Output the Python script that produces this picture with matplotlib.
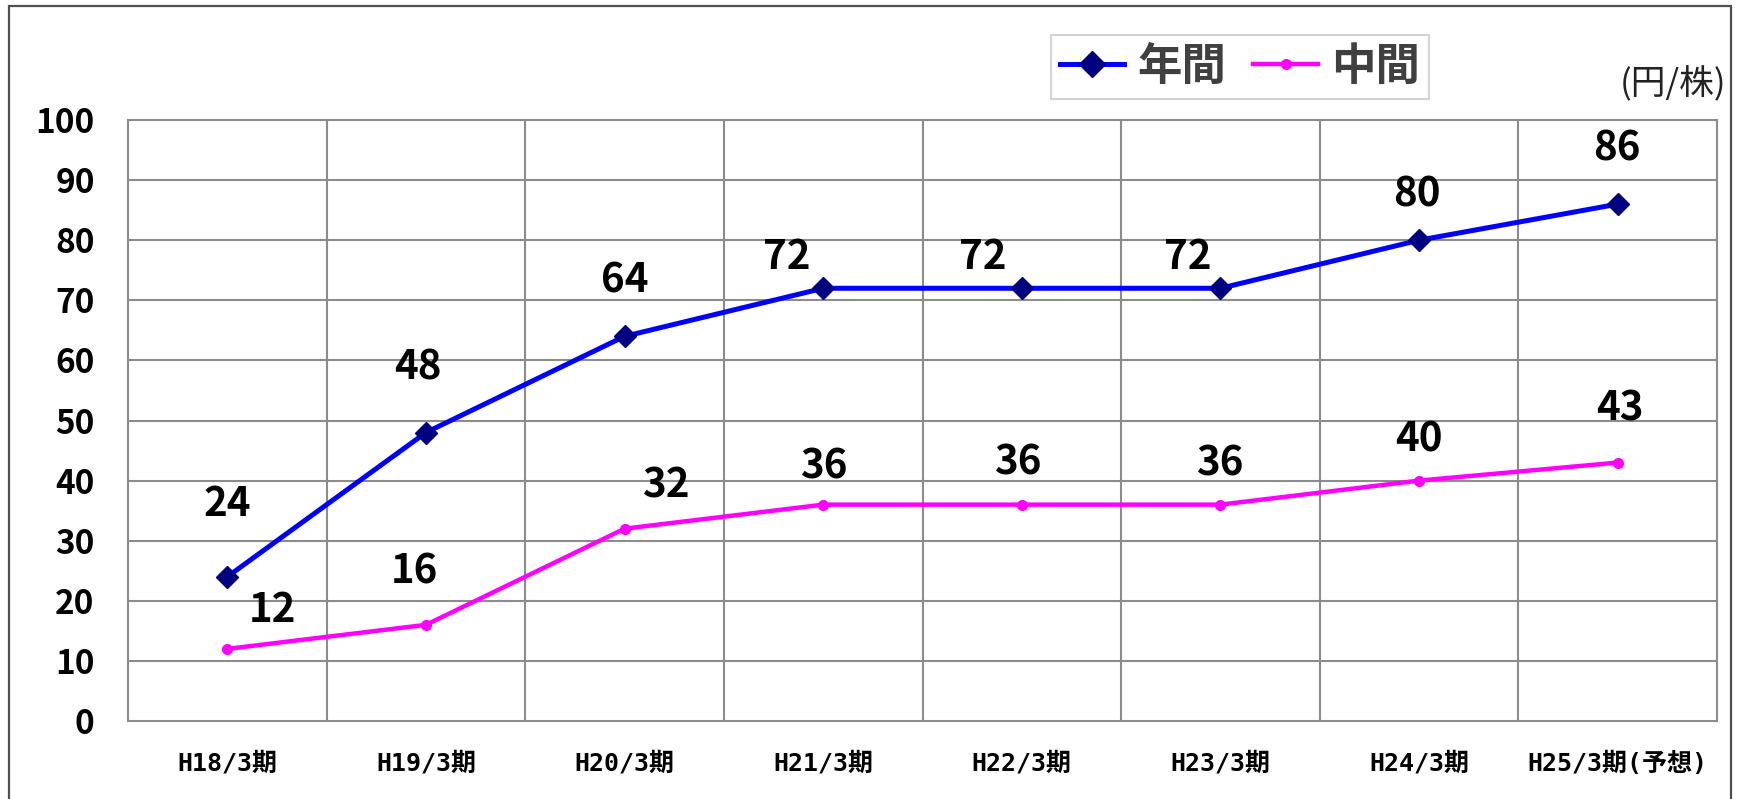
import matplotlib
matplotlib.use("Agg")
import matplotlib.pyplot as plt
from matplotlib.patches import Rectangle
from matplotlib.lines import Line2D

plt.rcParams['font.family'] = ['Noto Sans CJK JP', 'DejaVu Sans']

# Dividend per share (yen)
periods = ["H18/3期", "H19/3期", "H20/3期", "H21/3期", "H22/3期", "H23/3期", "H24/3期", "H25/3期(予想)"]
annual = [24, 48, 64, 72, 72, 72, 80, 86]
interim = [12, 16, 32, 36, 36, 36, 40, 43]
series_names = ["年間", "中間"]
unit_label = "(円/株)"
y_ticks = [0, 10, 20, 30, 40, 50, 60, 70, 80, 90, 100]

# label offsets (pixels) relative to each point
annual_offsets = [(0, 72), (-8, 65), (0, 55), (-36, 31), (-39, 31), (-33, 31), (-2, 45), (-1, 55)]
interim_offsets = [(45, 38), (-12, 53), (41, 43), (1, 38), (-4, 42), (-1, 41), (0, 41), (2, 54)]

num_font = ["Noto Sans CJK JP", "DejaVu Sans"]

W, H = 1739, 799
fig = plt.figure(figsize=(W / 100, H / 100), dpi=100)
fig.patch.set_facecolor("white")

# outer frame
fig.add_artist(Rectangle((9 / W, -0.05), (1731 - 9) / W, 1.05 - 6 / H,
                         transform=fig.transFigure, fill=False,
                         edgecolor="#505050", linewidth=1.6))

ax = fig.add_axes([128 / W, 1 - 721 / H, (1717 - 128) / W, (721 - 120) / H])
x = list(range(len(periods)))

grid_c = "#8c8c8c"
ax.set_xlim(-0.5, len(periods) - 0.5)
ax.set_ylim(0, 100)
ax.set_yticks(y_ticks)
ax.set_yticklabels([str(v) for v in y_ticks], fontsize=24, fontweight="bold",
                   family=num_font)
ax.set_xticks(x)
ax.set_xticklabels(periods, fontsize=18, fontweight="bold",
                   family=["DejaVu Sans Mono", "Noto Sans CJK JP"])
ax.tick_params(axis="both", length=0)
ax.tick_params(axis="y", pad=24)
ax.tick_params(axis="x", pad=22)

for yv in y_ticks[1:-1]:
    ax.axhline(yv, color=grid_c, linewidth=1.5, zorder=1)
for b in range(1, len(periods)):
    ax.axvline(b - 0.5, color=grid_c, linewidth=1.5, zorder=1)
for s in ax.spines.values():
    s.set_color(grid_c)
    s.set_linewidth(1.5)

ax.plot(x, annual, color="#0000FF", linewidth=3.6, marker="D", markersize=11.5,
        markerfacecolor="#000080", markeredgecolor="#000080", zorder=4)
ax.plot(x, interim, color="#FF00FF", linewidth=3.2, marker="o", markersize=7,
        markerfacecolor="#FF00FF", markeredgecolor="#FF00FF", zorder=3)

for xi, v, off in zip(x, annual, annual_offsets):
    ax.annotate(str(v), (xi, v), xytext=off, textcoords="offset pixels",
                ha="center", va="center", fontsize=29, fontweight="bold",
                family=num_font, color="black", zorder=5)
for xi, v, off in zip(x, interim, interim_offsets):
    ax.annotate(str(v), (xi, v), xytext=off, textcoords="offset pixels",
                ha="center", va="center", fontsize=29, fontweight="bold",
                family=num_font, color="black", zorder=5)

# legend
handles = [
    Line2D([], [], color="#0000FF", linewidth=3.6, marker="D", markersize=13,
           markerfacecolor="#000080", markeredgecolor="#000080"),
    Line2D([], [], color="#FF00FF", linewidth=3.2, marker="o", markersize=7,
           markerfacecolor="#FF00FF", markeredgecolor="#FF00FF"),
]
leg = fig.legend(handles, series_names, loc="upper left",
                 bbox_to_anchor=(1051 / W, 1 - 35 / H), ncol=2,
                 prop={"family": "Noto Sans CJK JP", "size": 32, "weight": "bold"},
                 frameon=True, fancybox=False, handlelength=1.45,
                 handletextpad=0.3, columnspacing=0.6, borderpad=0.2,
                 borderaxespad=0)
leg.get_frame().set_edgecolor("#c8c8c8")
leg.get_frame().set_linewidth(1.5)
for t in leg.get_texts():
    t.set_color("#404040")

fig.text(1726 / W, 1 - 85 / H, unit_label, ha="right", va="center",
         fontsize=25, color="#222222")

fig.savefig("out.png", dpi=100)
